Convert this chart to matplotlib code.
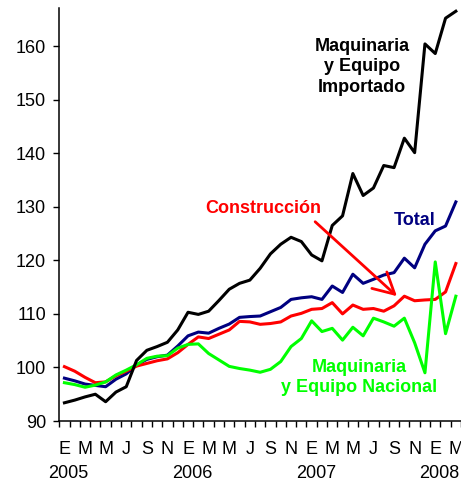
import numpy as np
import matplotlib
matplotlib.use('Agg')
import matplotlib.pyplot as plt

plt.rcParams['font.family'] = ['Liberation Sans', 'DejaVu Sans']

# Monthly index, Jan 2005 .. Mar 2008
months = np.arange(39)

importado = [93.4, 93.9, 94.5, 95.0, 93.6, 95.4, 96.4, 101.3, 103.2, 103.9, 104.7, 107.0,
             110.3, 109.9, 110.5, 112.5, 114.6, 115.7, 116.3, 118.5, 121.2, 123.0, 124.3, 123.5,
             121.0, 119.9, 126.5, 128.3, 136.2, 132.1, 133.5, 137.7, 137.3, 142.8, 140.1, 160.4,
             158.6, 165.2, 166.5]
total = [98.0, 97.5, 96.9, 96.65, 96.4, 97.8, 98.8, 100.45, 101.5, 102.0, 102.3, 104.0,
         105.9, 106.6, 106.4, 107.3, 108.1, 109.35, 109.5, 109.6, 110.4, 111.2, 112.7, 113.0,
         113.2, 112.7, 115.2, 114.0, 117.4, 115.7, 116.45, 117.25, 117.7, 120.4, 118.6, 123.0,
         125.5, 126.4, 130.9]
construccion = [100.15, 99.3, 98.15, 97.15, 97.3, 98.45, 99.3, 100.25, 100.75, 101.25, 101.6, 102.75,
                104.3, 105.7, 105.4, 106.2, 107.0, 108.6, 108.5, 108.05, 108.2, 108.5, 109.6, 110.1,
                110.85, 111.0, 112.1, 110.0, 111.65, 110.85, 111.0, 110.5, 111.5, 113.3, 112.45, 112.6,
                112.7, 114.1, 119.4]
nacional = [97.15, 96.8, 96.3, 96.7, 97.3, 98.6, 99.5, 100.5, 101.7, 102.1, 102.2, 103.6,
            104.3, 104.4, 102.6, 101.4, 100.2, 99.8, 99.5, 99.1, 99.65, 101.1, 103.9, 105.4,
            108.7, 106.7, 107.3, 105.1, 107.5, 105.9, 109.2, 108.5, 107.7, 109.2, 104.6, 99.0,
            119.7, 106.3, 113.3]

month_labels = ['E', 'M', 'M', 'J', 'S', 'N'] * 3 + ['E', 'M']
year_labels = ['2005', '2006', '2007', '2008']

fig = plt.figure(figsize=(4.61, 4.80), dpi=100)
ax = fig.add_axes([0.1286, 0.1229, 0.8714, 0.8604])

ax.plot(months, total, color='#000080', lw=2.2)
ax.plot(months, construccion, color='#ff0000', lw=2.2)
ax.plot(months, nacional, color='#00ff00', lw=2.2)
ax.plot(months, importado, color='black', lw=2.2)

ax.set_xlim(-0.5, 38.5)
ax.set_ylim(90, 167.1)

for s in ['top', 'right']:
    ax.spines[s].set_visible(False)
for s in ['left', 'bottom']:
    ax.spines[s].set_linewidth(1.1)

ax.set_yticks(np.arange(90, 161, 10))
ax.tick_params(axis='y', direction='out', length=4.5, width=1.0, pad=5, labelsize=13)

ax.set_xticks(months[::2])
ax.set_xticklabels(month_labels)
ax.set_xticks(np.arange(-0.5, 39, 1), minor=True)
ax.tick_params(axis='x', which='major', length=0, pad=14.5, labelsize=13)
ax.tick_params(axis='x', which='minor', direction='out', length=4.5, width=1.0)

for k, yr in enumerate(year_labels):
    ax.text(12 * k + 0.4, -0.126, yr, transform=ax.get_xaxis_transform(),
            ha='center', va='center', fontsize=13, clip_on=False)

# annotations
ax.text(28.88, 156.1, 'Maquinaria\ny Equipo\nImportado', ha='center', va='center',
        fontsize=13, fontweight='bold', color='black', linespacing=1.25)
ax.text(19.29, 129.6, 'Construcción', ha='center', va='center',
        fontsize=13, fontweight='bold', color='#ff0000')
ax.text(33.96, 127.4, 'Total', ha='center', va='center',
        fontsize=13, fontweight='bold', color='#000080')
ax.text(28.62, 98.1, 'Maquinaria\ny Equipo Nacional', ha='center', va='center',
        fontsize=13, fontweight='bold', color='#00ff00', linespacing=1.25)
ax.annotate('', xy=(32.28, 113.3), xytext=(24.34, 127.2),
            arrowprops=dict(arrowstyle='->, head_length=0.75, head_width=0.4',
                            color='#ff0000', lw=2.0, mutation_scale=20,
                            shrinkA=0, shrinkB=0))

fig.savefig('out.png', dpi=100)
